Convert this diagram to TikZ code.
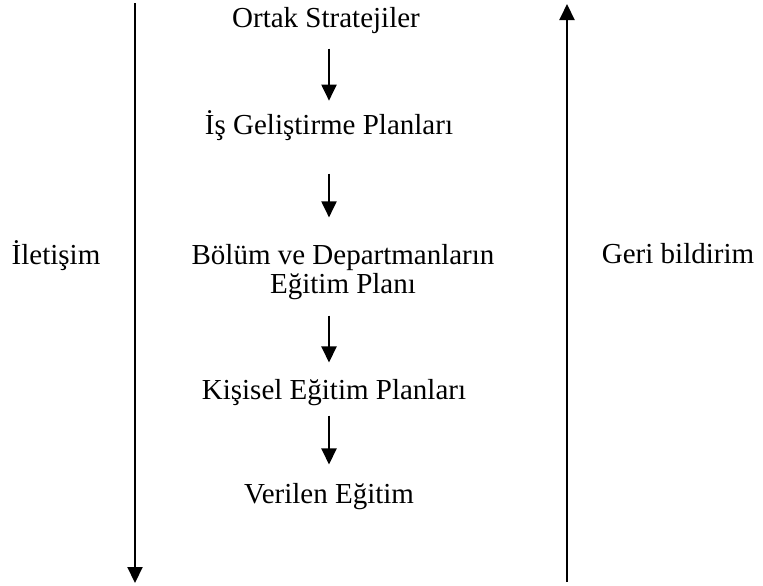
\documentclass[tikz,border=0pt]{standalone}
\usepackage{fontspec}
\setmainfont{Liberation Serif}
\usetikzlibrary{arrows.meta}
\tikzset{
  every picture/.style={line join=round, >={Triangle[width=7.5pt,length=8pt]}},
  baslik/.style={font=\fontsize{14.5}{14.5}\selectfont, align=center, inner sep=0pt},
  ok/.style={->, line width=1pt},
}
\begin{document}
\begin{tikzpicture}[x=0.5pt,y=-0.5pt]
\useasboundingbox (0,0) rectangle (763,585);
\node[baslik,anchor=base] (ortak) at (326,27) {Ortak Stratejiler};
\node[baslik,anchor=base] (isgel) at (329,134) {İş Geliştirme Planları};
\node[baslik] (bolum) at (343,272.5) {Bölüm ve Departmanların\\Eğitim Planı};
\node[baslik,anchor=base] (kisisel) at (334,399) {Kişisel Eğitim Planları};
\node[baslik,anchor=base] (verilen) at (329,503) {Verilen Eğitim};
\node[baslik,anchor=base] (iletisim) at (56,264) {İletişim};
\node[baslik,anchor=base] (geri) at (678,263) {Geri bildirim};
\coordinate (omurga) at (329,0);
\draw[ok,shorten <=7.5pt,shorten >=4.5pt] (omurga |- ortak.south) -- (omurga |- isgel.north);
\draw[ok,shorten <=16.5pt,shorten >=13.5pt] (omurga |- isgel.south) -- (omurga |- bolum.north);
\draw[ok,shorten <=7.5pt,shorten >=8pt] (omurga |- bolum.south) -- (omurga |- kisisel.north);
\draw[ok,shorten <=5pt,shorten >=9pt] (omurga |- kisisel.south) -- (omurga |- verilen.north);
\coordinate (solust) at (135,3);
\coordinate (solalt) at (135,583);
\draw[ok] (solust) -- (solalt);
\coordinate (sagalt) at (567,582);
\coordinate (sagust) at (567,4);
\draw[ok] (sagalt) -- (sagust);
\end{tikzpicture}
\end{document}
